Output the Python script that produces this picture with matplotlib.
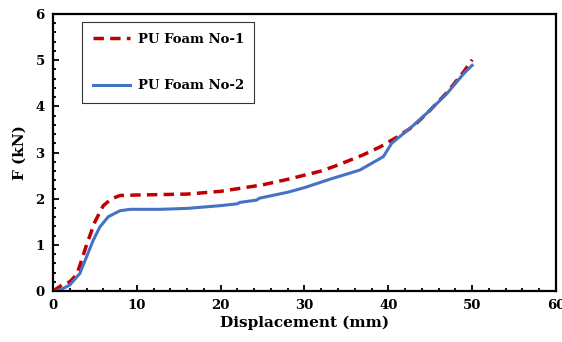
import matplotlib
matplotlib.use("Agg")
import matplotlib.pyplot as plt
from matplotlib.ticker import MultipleLocator

foam1_x = [0, 1, 2, 2.8, 3.2, 4, 5, 6, 7, 8, 10, 13, 16, 20, 25, 28, 32, 34, 37, 39, 41, 43, 45, 47, 49, 50]
foam1_y = [0, 0.12, 0.2, 0.35, 0.55, 1.0, 1.5, 1.85, 2.0, 2.07, 2.08, 2.09, 2.1, 2.16, 2.3, 2.42, 2.6, 2.73, 2.95, 3.12, 3.33, 3.57, 3.92, 4.3, 4.75, 5.01]

foam2_x = [0, 0.8, 2, 3.2, 4, 4.8, 5.6, 6.6, 8, 9.2, 12.8, 16, 20, 22, 22.3, 24.3, 24.6, 28, 30, 33, 36.6, 39.4, 40.4, 43, 45, 47, 49, 50]
foam2_y = [0, 0.02, 0.13, 0.38, 0.74, 1.1, 1.39, 1.61, 1.74, 1.77, 1.77, 1.79, 1.85, 1.89, 1.92, 1.97, 2.01, 2.14, 2.24, 2.42, 2.62, 2.91, 3.2, 3.59, 3.92, 4.28, 4.71, 4.89]

x_ticks = [0, 10, 20, 30, 40, 50, 60]
y_ticks = [0, 1, 2, 3, 4, 5, 6]

plt.rcParams['font.family'] = ['DejaVu Serif']
plt.rcParams['font.weight'] = 'bold'

fig = plt.figure(figsize=(5.62, 3.42), dpi=100)
ax = fig.add_axes([0.0943, 0.149, 0.895, 0.81])

ax.plot(foam1_x, foam1_y, color='#c00000', lw=2.5, ls=(0, (3, 1.8)), label='PU Foam No-1')
ax.plot(foam2_x, foam2_y, color='#4472c4', lw=2.2, label='PU Foam No-2')

ax.set_xlim(0, 60)
ax.set_ylim(0, 6)
ax.set_xticks(x_ticks)
ax.set_yticks(y_ticks)
ax.xaxis.set_minor_locator(MultipleLocator(2))
ax.yaxis.set_minor_locator(MultipleLocator(0.2))
ax.tick_params(which='both', direction='in', top=False, right=False, labelsize=9.5, width=1.3)
ax.tick_params(which='major', length=4, pad=6)
ax.tick_params(which='minor', length=2.5)
for lab in ax.get_xticklabels() + ax.get_yticklabels():
    lab.set_fontweight('bold')
for s in ax.spines.values():
    s.set_linewidth(1.6)

ax.set_xlabel('Displacement (mm)', fontsize=11, fontweight='bold', labelpad=2)
ax.set_ylabel('F (kN)', fontsize=11, fontweight='bold', labelpad=6)

leg = ax.legend(loc='upper left', bbox_to_anchor=(0.058, 0.971), borderaxespad=0,
                frameon=True, fancybox=False, edgecolor='black',
                labelspacing=2.55, handlelength=2.8, borderpad=0.8, handletextpad=0.6,
                prop={'weight': 'bold', 'size': 9.5})
leg.get_frame().set_linewidth(0.8)

fig.savefig('out.png', dpi=100)
